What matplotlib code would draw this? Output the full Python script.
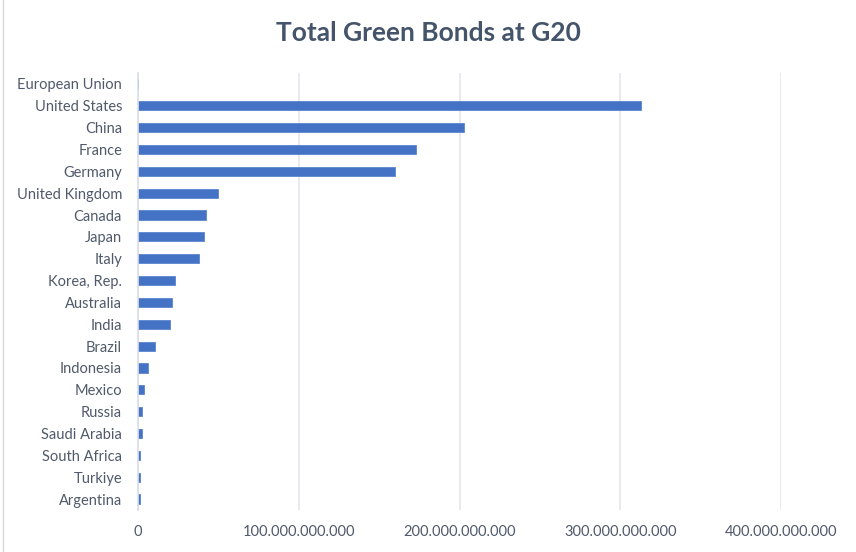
import matplotlib
matplotlib.use("Agg")
import matplotlib.pyplot as plt
from matplotlib.ticker import FuncFormatter
from matplotlib.patches import Rectangle

countries = ["European Union", "United States", "China", "France", "Germany",
             "United Kingdom", "Canada", "Japan", "Italy", "Korea, Rep.",
             "Australia", "India", "Brazil", "Indonesia", "Mexico", "Russia",
             "Saudi Arabia", "South Africa", "Turkiye", "Argentina"]
# total green bonds issued (USD)
bonds = [0, 313e9, 203e9, 173e9, 160e9,
         50e9, 42e9, 41e9, 38e9, 23e9,
         21e9, 20e9, 10.5e9, 6.5e9, 3.5e9, 2.5e9,
         2.5e9, 1.5e9, 1.5e9, 1.0e9]
x_ticks = [0, 100e9, 200e9, 300e9, 400e9]

plt.rcParams["font.family"] = ["Lato", "DejaVu Sans"]
text_col = "#505A6B"

fig = plt.figure(figsize=(8.56, 5.52), dpi=100)
ax = fig.add_axes([138 / 856, 1 - 510 / 552, (781 - 138) / 856, (510 - 73) / 552])

ypos = list(range(len(countries)))
ax.barh(ypos, bonds, height=0.42, color="#4472C4", edgecolor="#5B84CF",
        linewidth=0.6, zorder=3)

ax.set_ylim(len(countries) - 0.5, -0.5)
ax.set_yticks(ypos)
ax.set_yticklabels(countries, fontsize=10.5, color=text_col)
ax.set_xlim(0, 400e9)
ax.set_xticks(x_ticks)
ax.xaxis.set_major_formatter(FuncFormatter(lambda v, p: f"{v:,.0f}".replace(",", ".")))
ax.tick_params(axis="x", length=0, pad=11, labelsize=10.5, labelcolor=text_col)
ax.tick_params(axis="y", length=0, pad=11.5)

ax.grid(axis="x", color="#E3E6EC", linewidth=1.2, zorder=0)
for side in ["top", "right", "bottom"]:
    ax.spines[side].set_visible(False)
ax.spines["left"].set_color("#D9DEE6")
ax.spines["left"].set_linewidth(1.2)
ax.spines["left"].set_zorder(4)

fig.text(0.5, 1 - 33 / 552, "Total Green Bonds at G20", ha="center", va="center",
         fontsize=19, fontweight="bold", color="#44546A")

# thin frame of the chart area
fig.patches.append(Rectangle((3 / 856, -0.01), 1.2, 1.2, transform=fig.transFigure,
                             fill=False, edgecolor="#D9D9D9", linewidth=1))

fig.savefig("out.png", dpi=100)
